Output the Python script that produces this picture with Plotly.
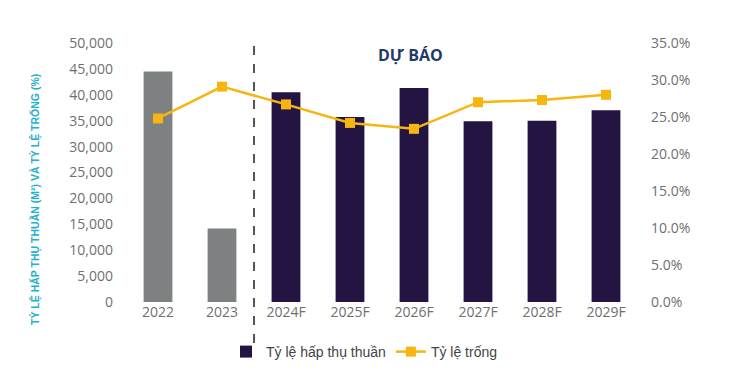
import plotly.graph_objects as go

categories = ["2022", "2023", "2024F", "2025F", "2026F", "2027F", "2028F", "2029F"]
hist_cats = ["2022", "2023"]
hist_absorption = [44500, 14200]
fc_cats = ["2024F", "2025F", "2026F", "2027F", "2028F", "2029F"]
fc_absorption = [40500, 35700, 41300, 34900, 35000, 37000]
vacancy = [24.8, 29.1, 26.7, 24.2, 23.4, 27.0, 27.3, 28.0]

left_ticks = [0, 5000, 10000, 15000, 20000, 25000, 30000, 35000, 40000, 45000, 50000]
left_labels = ["0", "5,000", "10,000", "15,000", "20,000", "25,000", "30,000", "35,000", "40,000", "45,000", "50,000"]
right_ticks = [0, 5, 10, 15, 20, 25, 30, 35]
right_labels = ["0.0%", "5.0%", "10.0%", "15.0%", "20.0%", "25.0%", "30.0%", "35.0%"]

# page body has an 8px default margin
O = 8
W, H = 734 - O, 385 - O
L, T = 126 - O, 43 - O
R, B = 734 - 638, 385 - 302
ph = H - T - B
pw = W - L - R

tick_font = dict(family="Open Sans", size=14, color="#6f6f6f")

fig = go.Figure()
fig.add_trace(go.Bar(x=hist_cats, y=hist_absorption, marker=dict(color="#7e8181", line=dict(width=0)),
                     showlegend=False, width=0.45))
fig.add_trace(go.Bar(x=fc_cats, y=fc_absorption, name="Tỷ lệ hấp thụ thuần",
                     marker=dict(color="#231442", line=dict(width=0)), width=0.45))
fig.add_trace(go.Scatter(x=categories, y=vacancy, name="Tỷ lệ trống", yaxis="y2",
                         mode="lines+markers",
                         line=dict(color="#f6b511", width=2.5),
                         marker=dict(symbol="square", size=10, color="#f6b511")))

fig.update_layout(
    width=W, height=H,
    margin=dict(l=L, r=R, t=T, b=B, pad=0, autoexpand=False),
    paper_bgcolor="white", plot_bgcolor="white",
    barmode="overlay",
    xaxis=dict(type="category", categoryorder="array", categoryarray=categories,
               showgrid=False, showline=False, zeroline=False, ticks="",
               tickfont=tick_font, range=[-0.5, 7.5]),
    yaxis=dict(range=[0, 50000], tickmode="array", tickvals=left_ticks, ticktext=left_labels,
               showgrid=False, showline=False, zeroline=False, ticks="",
               tickfont=tick_font, ticklabelstandoff=12),
    yaxis2=dict(range=[0, 35], tickmode="array", tickvals=right_ticks, ticktext=right_labels,
                overlaying="y", side="right",
                showgrid=False, showline=False, zeroline=False, ticks="",
                tickfont=tick_font, ticklabelstandoff=12),
    legend=dict(orientation="h", x=(226 - O - L) / pw, y=-(352 - 302) / ph,
                xanchor="left", yanchor="middle",
                font=dict(family="Liberation Sans", size=14, color="#444444"),
                traceorder="normal", bgcolor="rgba(0,0,0,0)"),
    showlegend=True,
)

fig.add_shape(type="line", xref="x", yref="paper", x0=1.5, x1=1.5,
              y0=-(343 - 302) / ph, y1=1.0,
              line=dict(color="#555555", width=2, dash="dash"))

fig.add_annotation(text="<b>DỰ BÁO</b>", xref="x", yref="paper", x=3.95, y=(302 - 55) / ph,
                   showarrow=False, xanchor="center", yanchor="middle",
                   font=dict(family="Open Sans", size=16, color="#1f3a68"))

fig.add_annotation(text="<b>TỶ LỆ HẤP THỤ THUẦN (M²) VÀ TỶ LỆ TRỐNG (%)</b>", xref="paper", yref="paper",
                   x=(35 - 126) / pw, y=(302 - 200) / ph, textangle=-90,
                   showarrow=False, xanchor="center", yanchor="middle",
                   font=dict(family="Liberation Sans Narrow, Liberation Sans", size=10.5, color="#22b0cc"))

fig.write_html("out.html")
